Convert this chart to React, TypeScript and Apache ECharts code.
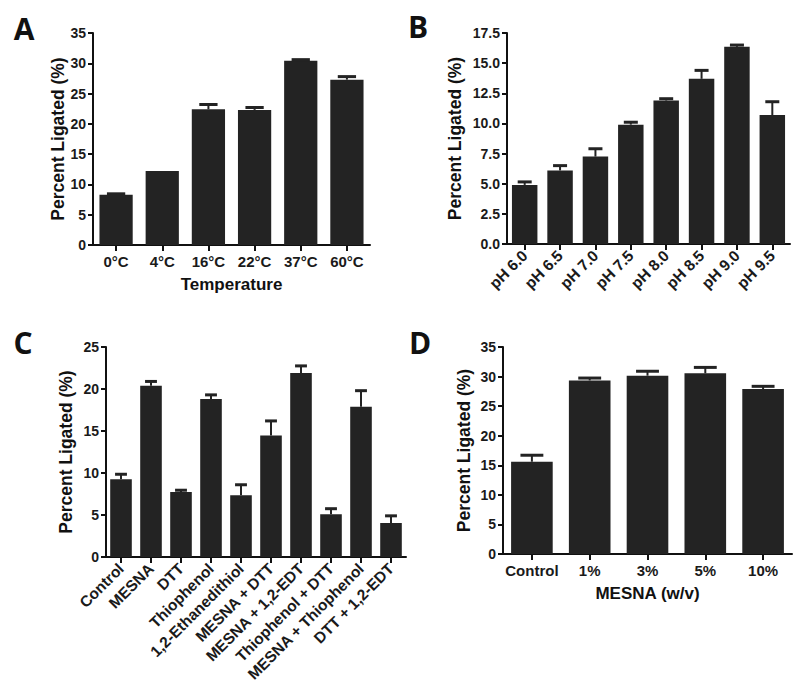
import React, { useEffect, useRef } from "react";
import * as echarts from "echarts";

// Panel A: temperature
const tempCategories = ["0°C", "4°C", "16°C", "22°C", "37°C", "60°C"];
const tempValues = [8.3, 12.2, 22.4, 22.3, 30.4, 27.3];
const tempErrTop = [8.45, 12.2, 23.2, 22.7, 30.6, 27.8];

// Panel B: pH
const phCategories = ["pH 6.0", "pH 6.5", "pH 7.0", "pH 7.5", "pH 8.0", "pH 8.5", "pH 9.0", "pH 9.5"];
const phValues = [4.9, 6.1, 7.25, 9.9, 11.9, 13.7, 16.35, 10.7];
const phErrTop = [5.15, 6.5, 7.9, 10.1, 12.05, 14.4, 16.5, 11.8];

// Panel C: thiol additives
const thiolCategories = [
  "Control",
  "MESNA",
  "DTT",
  "Thiophenol",
  "1,2-Ethanedithiol",
  "MESNA + DTT",
  "MESNA + 1,2-EDT",
  "Thiophenol + DTT",
  "MESNA + Thiophenol",
  "DTT + 1,2-EDT",
];
const thiolValues = [9.25, 20.4, 7.75, 18.8, 7.35, 14.45, 21.9, 5.1, 17.9, 4.05];
const thiolErrTop = [9.85, 20.9, 7.95, 19.3, 8.6, 16.2, 22.75, 5.75, 19.8, 4.9];

// Panel D: MESNA concentration
const mesnaCategories = ["Control", "1%", "3%", "5%", "10%"];
const mesnaValues = [15.6, 29.35, 30.15, 30.55, 27.9];
const mesnaErrTop = [16.7, 29.75, 30.9, 31.55, 28.35];

const FONT = "'Liberation Sans', Arial, sans-serif";
const BAR_COLOR = "#232323";
const AXIS_COLOR = "#111";
const BAR_FRAC = 0.72;

type Panel = {
  letter: string;
  letterX: number;
  letterY: number;
  grid: { left: number; top: number; width: number; height: number };
  categories: string[];
  values: number[];
  errTop: number[];
  max: number;
  interval: number;
  decimals: number;
  rotate: number;
  xName: string;
  xNameGap: number;
  yNameGap: number;
  labelMargin: number;
};

const panels: Panel[] = [
  {
    letter: "A",
    letterX: 24,
    letterY: 28,
    grid: { left: 93, top: 33, width: 277, height: 212 },
    categories: tempCategories,
    values: tempValues,
    errTop: tempErrTop,
    max: 35,
    interval: 5,
    decimals: 0,
    rotate: 0,
    xName: "Temperature",
    xNameGap: 31,
    yNameGap: 25,
    labelMargin: 9,
  },
  {
    letter: "B",
    letterX: 418,
    letterY: 26,
    grid: { left: 507, top: 33, width: 283, height: 211 },
    categories: phCategories,
    values: phValues,
    errTop: phErrTop,
    max: 17.5,
    interval: 2.5,
    decimals: 1,
    rotate: 45,
    xName: "",
    xNameGap: 30,
    yNameGap: 43,
    labelMargin: 9,
  },
  {
    letter: "C",
    letterX: 23,
    letterY: 342,
    grid: { left: 106, top: 347, width: 300, height: 210 },
    categories: thiolCategories,
    values: thiolValues,
    errTop: thiolErrTop,
    max: 25,
    interval: 5,
    decimals: 0,
    rotate: 45,
    xName: "",
    xNameGap: 30,
    yNameGap: 31,
    labelMargin: 9,
  },
  {
    letter: "D",
    letterX: 420,
    letterY: 342,
    grid: { left: 503, top: 347, width: 289, height: 207 },
    categories: mesnaCategories,
    values: mesnaValues,
    errTop: mesnaErrTop,
    max: 35,
    interval: 5,
    decimals: 0,
    rotate: 0,
    xName: "MESNA (w/v)",
    xNameGap: 31,
    yNameGap: 30,
    labelMargin: 9,
  },
];

function buildOption() {
  const grid: any[] = [];
  const xAxis: any[] = [];
  const yAxis: any[] = [];
  const series: any[] = [];
  const graphic: any[] = [];

  panels.forEach((p, gi) => {
    grid.push({ ...p.grid, containLabel: false });
    xAxis.push({
      type: "category",
      gridIndex: gi,
      data: p.categories,
      boundaryGap: true,
      name: p.xName,
      nameLocation: "middle",
      nameGap: p.xNameGap,
      nameTextStyle: { fontFamily: FONT, fontWeight: "bold", fontSize: 17, color: "#111" },
      axisLine: { show: true, onZero: false, lineStyle: { color: AXIS_COLOR, width: 2 } },
      axisTick: { show: true, alignWithLabel: true, length: 6, lineStyle: { color: AXIS_COLOR, width: 2 } },
      axisLabel: {
        interval: 0,
        rotate: p.rotate,
        margin: p.labelMargin,
        fontFamily: FONT,
        fontWeight: "bold",
        fontSize: p.rotate ? 15.5 : 15,
        color: "#1a1a1a",
      },
      splitLine: { show: false },
    });
    yAxis.push({
      type: "value",
      gridIndex: gi,
      min: 0,
      max: p.max,
      interval: p.interval,
      name: "Percent Ligated (%)",
      nameLocation: "middle",
      nameGap: p.yNameGap,
      nameTextStyle: { fontFamily: FONT, fontWeight: "bold", fontSize: 17.5, color: "#111" },
      axisLine: { show: true, lineStyle: { color: AXIS_COLOR, width: 2 } },
      axisTick: { show: true, length: 5, lineStyle: { color: AXIS_COLOR, width: 2 } },
      axisLabel: {
        margin: 7,
        fontFamily: FONT,
        fontWeight: "bold",
        fontSize: 14,
        color: "#1a1a1a",
        formatter: (v: number) => v.toFixed(p.decimals),
      },
      splitLine: { show: false },
    });
    series.push({
      type: "bar",
      xAxisIndex: gi,
      yAxisIndex: gi,
      data: p.values,
      barWidth: `${BAR_FRAC * 100}%`,
      itemStyle: { color: BAR_COLOR },
      z: 2,
    });
    series.push({
      type: "custom",
      xAxisIndex: gi,
      yAxisIndex: gi,
      z: 3,
      encode: { x: 0, y: [1, 2] },
      data: p.values.map((v, i) => [i, v, p.errTop[i]]),
      renderItem: (_params: any, api: any) => {
        const i = api.value(0);
        const v = api.value(1);
        const e = api.value(2);
        if (!(e > v)) return { type: "group", children: [] };
        const base = api.coord([i, v]);
        const top = api.coord([i, e]);
        const bw = api.size([1, 0])[0] * BAR_FRAC;
        const capW = bw * 0.55;
        return {
          type: "group",
          children: [
            {
              type: "line",
              shape: { x1: base[0], y1: base[1], x2: top[0], y2: top[1] },
              style: { stroke: BAR_COLOR, lineWidth: 2 },
            },
            {
              type: "rect",
              shape: { x: top[0] - capW / 2, y: top[1] - 1.5, width: capW, height: 3 },
              style: { fill: BAR_COLOR },
            },
          ],
        };
      },
    });
    graphic.push({
      type: "text",
      x: p.letterX,
      y: p.letterY,
      style: {
        text: p.letter,
        fontFamily: "'Open Sans', sans-serif",
        fontWeight: "bold",
        fontSize: 30,
        fill: "#111",
        align: "center",
        verticalAlign: "middle",
      },
    });
  });

  return {
    animation: false,
    backgroundColor: "#ffffff",
    grid,
    xAxis,
    yAxis,
    series,
    graphic,
  };
}

export default function App() {
  const ref = useRef<HTMLDivElement>(null);
  useEffect(() => {
    document.body.style.margin = "0";
    if (!ref.current) return;
    const chart = echarts.init(ref.current, undefined, { renderer: "svg" });
    chart.setOption(buildOption() as any);
    return () => {
      chart.dispose();
    };
  }, []);
  return <div ref={ref} style={{ width: 800, height: 696 }} />;
}
